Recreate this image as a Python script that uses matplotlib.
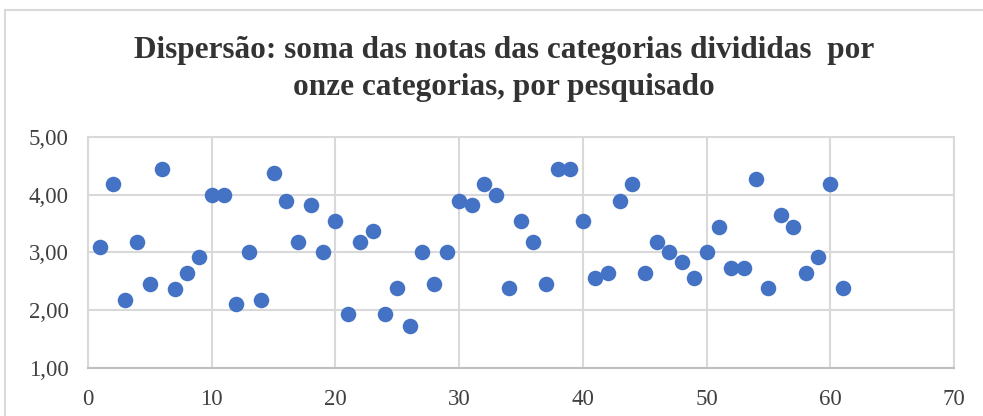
import matplotlib.pyplot as plt
from matplotlib.ticker import FuncFormatter, MultipleLocator
from matplotlib.patches import Rectangle

# respondent index and score (sum of category scores / 11)
pesquisado = list(range(1, 62))
notas = [3.10, 4.18, 2.17, 3.18, 2.45, 4.45, 2.37, 2.65, 2.93, 4.00,
         4.00, 2.10, 3.00, 2.17, 4.38, 3.90, 3.18, 3.83, 3.00, 3.55,
         1.93, 3.18, 3.38, 1.93, 2.38, 1.72, 3.00, 2.45, 3.00, 3.90,
         3.83, 4.18, 4.00, 2.38, 3.55, 3.18, 2.45, 4.45, 4.45, 3.55,
         2.55, 2.65, 3.90, 4.18, 2.65, 3.18, 3.00, 2.83, 2.55, 3.00,
         3.45, 2.73, 2.73, 4.28, 2.38, 3.65, 3.45, 2.65, 2.93, 4.18,
         2.38]

titulo = "Dispersão: soma das notas das categorias divididas  por\nonze categorias, por pesquisado"

plt.rcParams['font.family'] = 'Liberation Serif'

fig = plt.figure(figsize=(9.83, 4.16), dpi=100)
ax = fig.add_axes([0.0895, 0.1154, 0.8810, 0.5553])

ax.scatter(pesquisado, notas, s=125, color='#4472C4', zorder=3, linewidths=0)

ax.set_xlim(0, 70)
ax.set_ylim(1, 5)
ax.xaxis.set_major_locator(MultipleLocator(10))
ax.yaxis.set_major_locator(MultipleLocator(1))
ax.yaxis.set_major_formatter(FuncFormatter(lambda v, p: f"{v:.2f}".replace('.', ',')))

ax.grid(True, color='#d9d9d9', linewidth=1.5, zorder=0)
for s in ax.spines.values():
    s.set_color('#d9d9d9')
    s.set_linewidth(1.5)
ax.spines['bottom'].set_color('#bfbfbf')
ax.tick_params(length=0, labelsize=16.5, colors='#404040')
ax.tick_params(axis='y', pad=14)
ax.tick_params(axis='x', pad=15)

fig.text(0.513, 0.834, titulo, ha='center', va='center', fontsize=22.5,
         fontweight='bold', color='#333333', linespacing=1.4)

# outer chart frame
fig.patches.append(Rectangle((5 / 983, -0.1), 1.1, 1 - 10 / 416 + 0.1,
                             transform=fig.transFigure, fill=False,
                             edgecolor='#d9d9d9', linewidth=1.5, clip_on=False))

fig.savefig('out.png', dpi=100)
